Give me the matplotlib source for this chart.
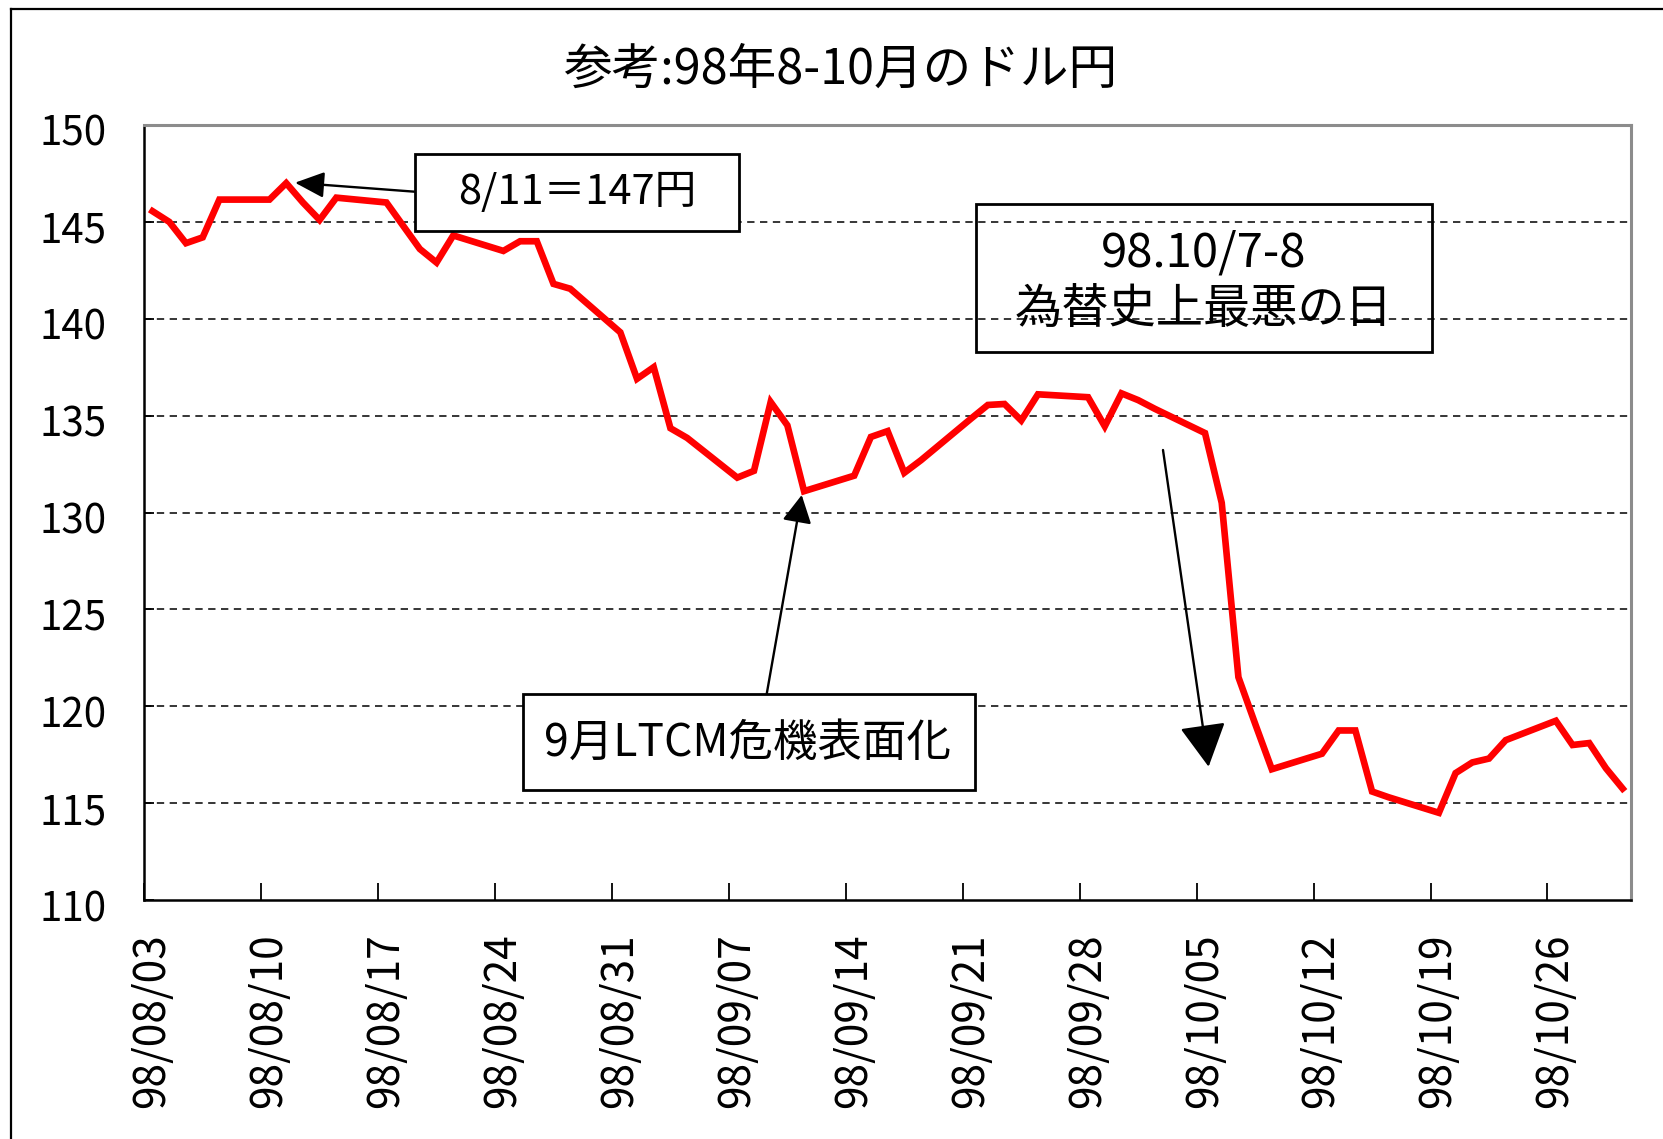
import matplotlib
matplotlib.use('Agg')
import matplotlib.pyplot as plt
import matplotlib.dates as mdates
import matplotlib.transforms as mtransforms
from matplotlib.patches import Rectangle, FancyArrowPatch, ArrowStyle
from matplotlib.lines import Line2D
import pandas as pd

plt.rcParams['font.family'] = ['Noto Sans CJK JP', 'DejaVu Sans']

# ---------------- data ----------------
title = '参考:98年8-10月のドル円'
dates = ['1998-08-03', '1998-08-04', '1998-08-05', '1998-08-06', '1998-08-07',
         '1998-08-10', '1998-08-11', '1998-08-12', '1998-08-13', '1998-08-14',
         '1998-08-17', '1998-08-18', '1998-08-19', '1998-08-20', '1998-08-21',
         '1998-08-24', '1998-08-25', '1998-08-26', '1998-08-27', '1998-08-28',
         '1998-08-31', '1998-09-01', '1998-09-02', '1998-09-03', '1998-09-04',
         '1998-09-07', '1998-09-08', '1998-09-09', '1998-09-10', '1998-09-11',
         '1998-09-14', '1998-09-15', '1998-09-16', '1998-09-17', '1998-09-18',
         '1998-09-21', '1998-09-22', '1998-09-23', '1998-09-24', '1998-09-25',
         '1998-09-28', '1998-09-29', '1998-09-30', '1998-10-01', '1998-10-02',
         '1998-10-05', '1998-10-06', '1998-10-07', '1998-10-08', '1998-10-09',
         '1998-10-12', '1998-10-13', '1998-10-14', '1998-10-15', '1998-10-16',
         '1998-10-19', '1998-10-20', '1998-10-21', '1998-10-22', '1998-10-23',
         '1998-10-26', '1998-10-27', '1998-10-28', '1998-10-29', '1998-10-30']
usdjpy = [145.55, 145.0, 143.9, 144.2, 146.15,
          146.15, 147.0, 146.0, 145.1, 146.25,
          146.0, 144.8, 143.6, 142.9, 144.3,
          143.5, 144.0, 144.0, 141.8, 141.55,
          139.3, 136.9, 137.5, 134.35, 133.85,
          131.8, 132.15, 135.7, 134.5, 131.1,
          131.9, 133.9, 134.2, 132.05, 132.7,
          134.85, 135.55, 135.6, 134.75, 136.1,
          135.95, 134.45, 136.15, 135.8, 135.35,
          134.1, 130.5, 121.5, 119.1, 116.75,
          117.55, 118.75, 118.75, 115.6, 115.3,
          114.5, 116.55, 117.1, 117.3, 118.25,
          119.25, 118.0, 118.1, 116.8, 115.75]
y_ticks = [110, 115, 120, 125, 130, 135, 140, 145, 150]
x_tick_dates = ['1998-08-03', '1998-08-10', '1998-08-17', '1998-08-24', '1998-08-31',
                '1998-09-07', '1998-09-14', '1998-09-21', '1998-09-28', '1998-10-05',
                '1998-10-12', '1998-10-19', '1998-10-26']
x_tick_labels = ['98/08/03', '98/08/10', '98/08/17', '98/08/24', '98/08/31',
                 '98/09/07', '98/09/14', '98/09/21', '98/09/28', '98/10/05',
                 '98/10/12', '98/10/19', '98/10/26']
ann_peak = '8/11＝147円'
ann_crash = ['98.10/7-8', '為替史上最悪の日']
ann_ltcm = '9月LTCM危機表面化'

# ---------------- figure ----------------
W, H = 1663, 1139
fig = plt.figure(figsize=(W / 100, H / 100), dpi=100)
fig.patch.set_facecolor('white')

ax_left, ax_right, ax_top, ax_bottom = 144.2, 1631.0, 125.0, 900.0
ax = fig.add_axes([ax_left / W, 1 - ax_bottom / H,
                   (ax_right - ax_left) / W, (ax_bottom - ax_top) / H])

x = pd.to_datetime(dates) + pd.Timedelta(hours=12)   # Excel date axis: points centred in day slot
ax.plot(x, usdjpy, color='#ff0000', lw=4.8, solid_joinstyle='miter', zorder=3)

ax.set_xlim(pd.Timestamp('1998-08-03'), pd.Timestamp('1998-10-31'))
ax.set_ylim(110, 150)
ax.set_yticks(y_ticks)
ax.set_yticklabels([str(v) for v in y_ticks])
ax.set_xticks(pd.to_datetime(x_tick_dates))
ax.set_xticklabels(x_tick_labels, rotation=90)

# grid
for v in y_ticks[1:-1]:
    ax.axhline(v, color='black', lw=1.1, dashes=(4.8, 3.6), zorder=1)

for s in ['left', 'bottom']:
    ax.spines[s].set_color('black')
    ax.spines[s].set_linewidth(1.8)
for s in ['top', 'right']:
    ax.spines[s].set_color('#8c8c8c')
    ax.spines[s].set_linewidth(2.2)

ax.tick_params(axis='y', direction='in', length=7, width=1.3, pad=27, labelsize=29)
ax.tick_params(axis='x', direction='in', length=12, width=1.3, pad=24, labelsize=30.5)
xoff = mtransforms.ScaledTranslation(8 / 100, 0, fig.dpi_scale_trans)
for lab in ax.get_xticklabels():
    lab.set_transform(lab.get_transform() + xoff)
yoff = mtransforms.ScaledTranslation(0, -5 / 100, fig.dpi_scale_trans)
for lab in ax.get_yticklabels():
    lab.set_transform(lab.get_transform() + yoff)

# title
fig.text(840 / W, 1 - 70 / H, title, ha='center', va='center', fontsize=35)

# outer chart-area border (left and top visible)
fig.add_artist(Line2D([10.6 / W, 10.6 / W], [0, 1 - 9.3 / H], transform=fig.transFigure,
                      color='black', lw=1.6))
fig.add_artist(Line2D([10.6 / W, 1], [1 - 9.3 / H, 1 - 9.3 / H], transform=fig.transFigure,
                      color='black', lw=1.6))


def box(x0, y0, x1, y1, fill):
    fig.add_artist(Rectangle((x0 / W, 1 - y1 / H), (x1 - x0) / W, (y1 - y0) / H,
                             transform=fig.transFigure, facecolor='white' if fill else 'none',
                             edgecolor='black', lw=2.0, zorder=6))


def label(xc, yc, s, size):
    fig.text(xc / W, 1 - yc / H, s, ha='center', va='center', fontsize=size, zorder=7)


def arrow(xa, ya, xb, yb, hl, hw):
    fig.add_artist(FancyArrowPatch((xa, H - ya), (xb, H - yb),
                                   transform=mtransforms.IdentityTransform(),
                                   arrowstyle=ArrowStyle('-|>', head_length=hl, head_width=hw),
                                   mutation_scale=1, shrinkA=0, shrinkB=0,
                                   color='black', lw=1.7, zorder=5))


# 8/11 peak annotation
arrow(414.7, 191.7, 295, 182.7, 18, 8)
box(414.7, 153.8, 739.2, 231.2, True)
label(577, 193, ann_peak, 30)

# crash annotation
box(975.8, 203.6, 1431.8, 352.1, False)
label(1204, 253, ann_crash[0], 34)
label(1204, 311, ann_crash[1], 34)
arrow(1163, 450, 1208.6, 766.7, 27, 14.5)

# LTCM annotation
arrow(766.7, 694, 801.7, 495, 17, 9)
box(522.7, 694, 975, 790, True)
label(748, 743, ann_ltcm, 32)

fig.savefig('out.png', dpi=100, facecolor='white')
